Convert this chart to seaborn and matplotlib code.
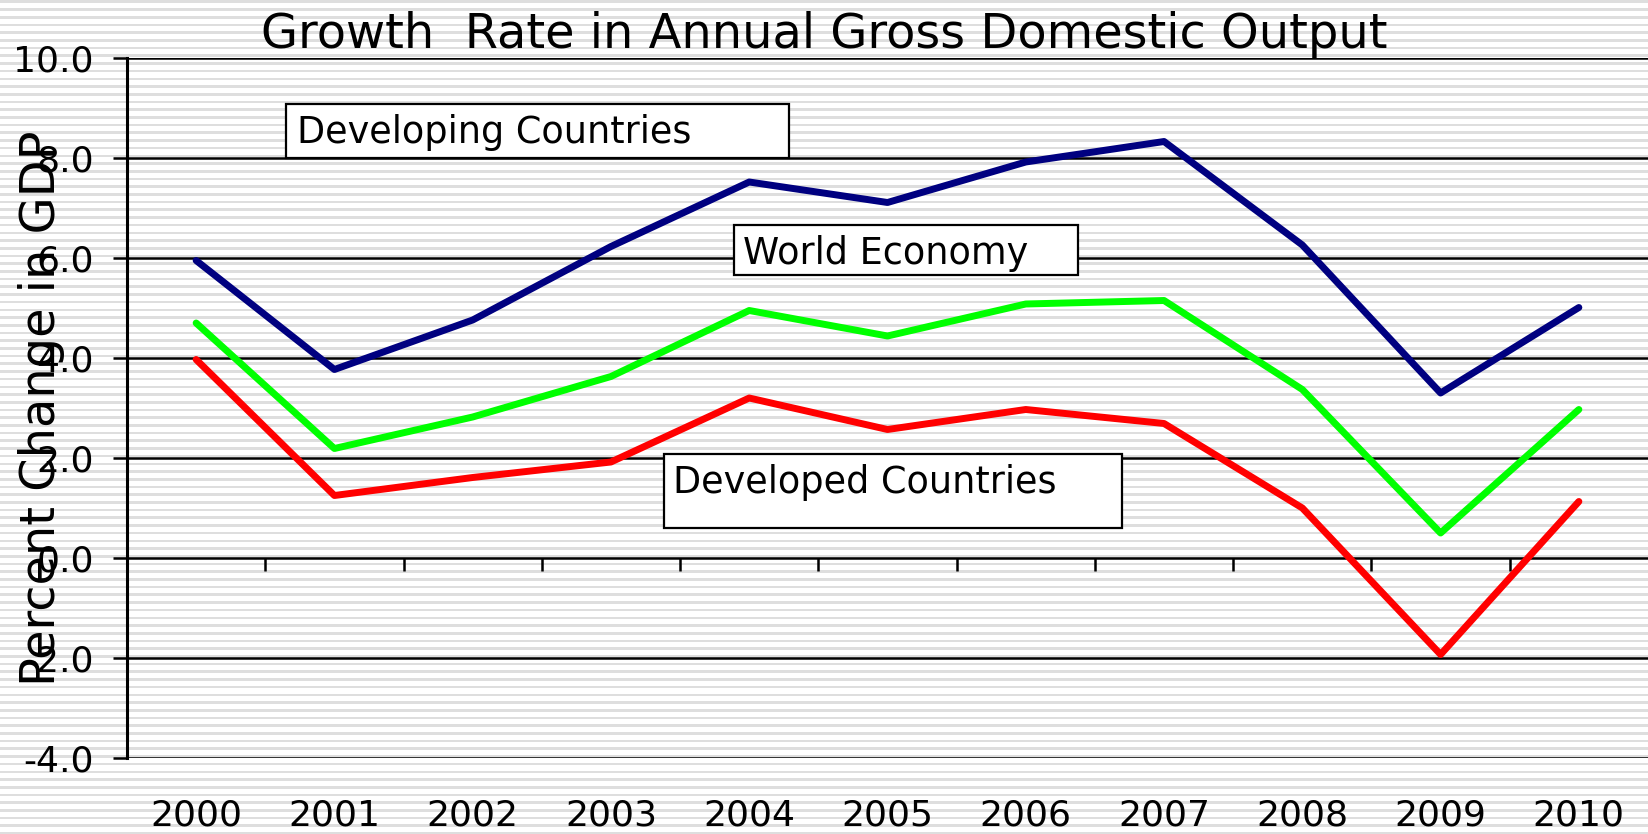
import numpy as np
import pandas as pd
import matplotlib
matplotlib.use('Agg')
import matplotlib.pyplot as plt
import matplotlib.patches as mpatches
import seaborn as sns

# Growth rates (percent change in GDP)
years = [2000, 2001, 2002, 2003, 2004, 2005, 2006, 2007, 2008, 2009, 2010]
developing = [5.95, 3.77, 4.76, 6.23, 7.52, 7.11, 7.92, 8.33, 6.26, 3.30, 5.01]
world = [4.70, 2.19, 2.82, 3.63, 4.95, 4.44, 5.08, 5.15, 3.37, 0.50, 2.97]
developed = [3.97, 1.25, 1.61, 1.92, 3.20, 2.57, 2.97, 2.69, 1.00, -1.93, 1.13]

series_names = ['Developing Countries', 'World Economy', 'Developed Countries']
series_colors = ['#000080', '#00ff00', '#ff0000']
y_ticks = [-4, -2, 0, 2, 4, 6, 8, 10]

df = pd.DataFrame({
    'year': years * 3,
    'growth': developing + world + developed,
    'series': [series_names[0]] * len(years) + [series_names[1]] * len(years)
              + [series_names[2]] * len(years),
})

sns.set_theme(style='white')
plt.rcParams['font.family'] = ['DejaVu Sans']

fig = plt.figure(figsize=(16.48, 8.34), dpi=100)

# striped background (old Excel chart fill)
bg = fig.add_axes([0, 0, 1, 1], zorder=-5)
rows = np.arange(834)
stripes = np.where((rows % 7.7) < 2.6, 0.87, 1.0).reshape(-1, 1)
bg.imshow(stripes, aspect='auto', cmap='gray', vmin=0, vmax=1, interpolation='nearest')
bg.axis('off')

ax = fig.add_axes([127 / 1648, 76 / 834, 1 - 127 / 1648, 700 / 834])
ax.set_facecolor('none')

sns.lineplot(data=df, x='year', y='growth', hue='series', hue_order=series_names,
             palette=dict(zip(series_names, series_colors)), linewidth=5.0,
             legend=False, ax=ax, zorder=3)

ax.set_xlim(years[0] - 0.5, years[-1] + 0.5)
ax.set_ylim(y_ticks[0], y_ticks[-1])
ax.set_yticks(y_ticks)
ax.set_yticklabels([f'{v:.1f}' for v in y_ticks])
ax.set_xticks(years)
ax.set_xticklabels([str(y) for y in years])

ax.grid(axis='y', color='black', linewidth=1.8)
ax.grid(axis='x', visible=False)
ax.set_axisbelow(True)
for side in ['top', 'right', 'bottom']:
    ax.spines[side].set_visible(False)
ax.spines['left'].set_color('black')
ax.spines['left'].set_linewidth(2.2)

ax.tick_params(axis='y', which='major', direction='out', length=10, width=1.8,
               color='black', pad=14, labelsize=26, labelcolor='black', left=True)
ax.tick_params(axis='x', which='major', length=0, pad=29, labelsize=26, labelcolor='black')

# category-axis tick marks sitting on the zero line
zero_axis = ax.secondary_xaxis(0, transform=ax.transData)
zero_axis.set_xticks([y + 0.5 for y in years[:-1]])
zero_axis.set_xticklabels([])
zero_axis.tick_params(direction='out', length=9.5, width=1.8, color='black', bottom=True)
zero_axis.spines['bottom'].set_visible(False)

ax.set_xlabel('')
ax.set_ylabel('Percent Change in GDP', fontsize=34.5, color='black')
ax.yaxis.set_label_coords(-0.041, 0.5)

fig.text(0.5, 1 - 48 / 834, 'Growth  Rate in Annual Gross Domestic Output',
         ha='center', va='baseline', fontsize=34.5, color='black')

# series labels in boxes
boxes = [
    ('Developing Countries', (0.1045, 0.8571, 0.3307, 0.0772), (0.1118, 0.8779)),
    ('World Economy', (0.3991, 0.6900, 0.2261, 0.0714), (0.4050, 0.7057)),
    ('Developed Countries', (0.3531, 0.3279, 0.3011, 0.1057), (0.3590, 0.3786)),
]
for label, (bx, by, bw, bh), (tx, ty) in boxes:
    ax.add_patch(mpatches.Rectangle((bx, by), bw, bh, transform=ax.transAxes,
                                    facecolor='white', edgecolor='black',
                                    linewidth=1.6, zorder=5, clip_on=False))
    ax.text(tx, ty, label, transform=ax.transAxes, ha='left', va='baseline',
            fontsize=26.4, color='black', zorder=6)

fig.savefig('out.png', dpi=100)
